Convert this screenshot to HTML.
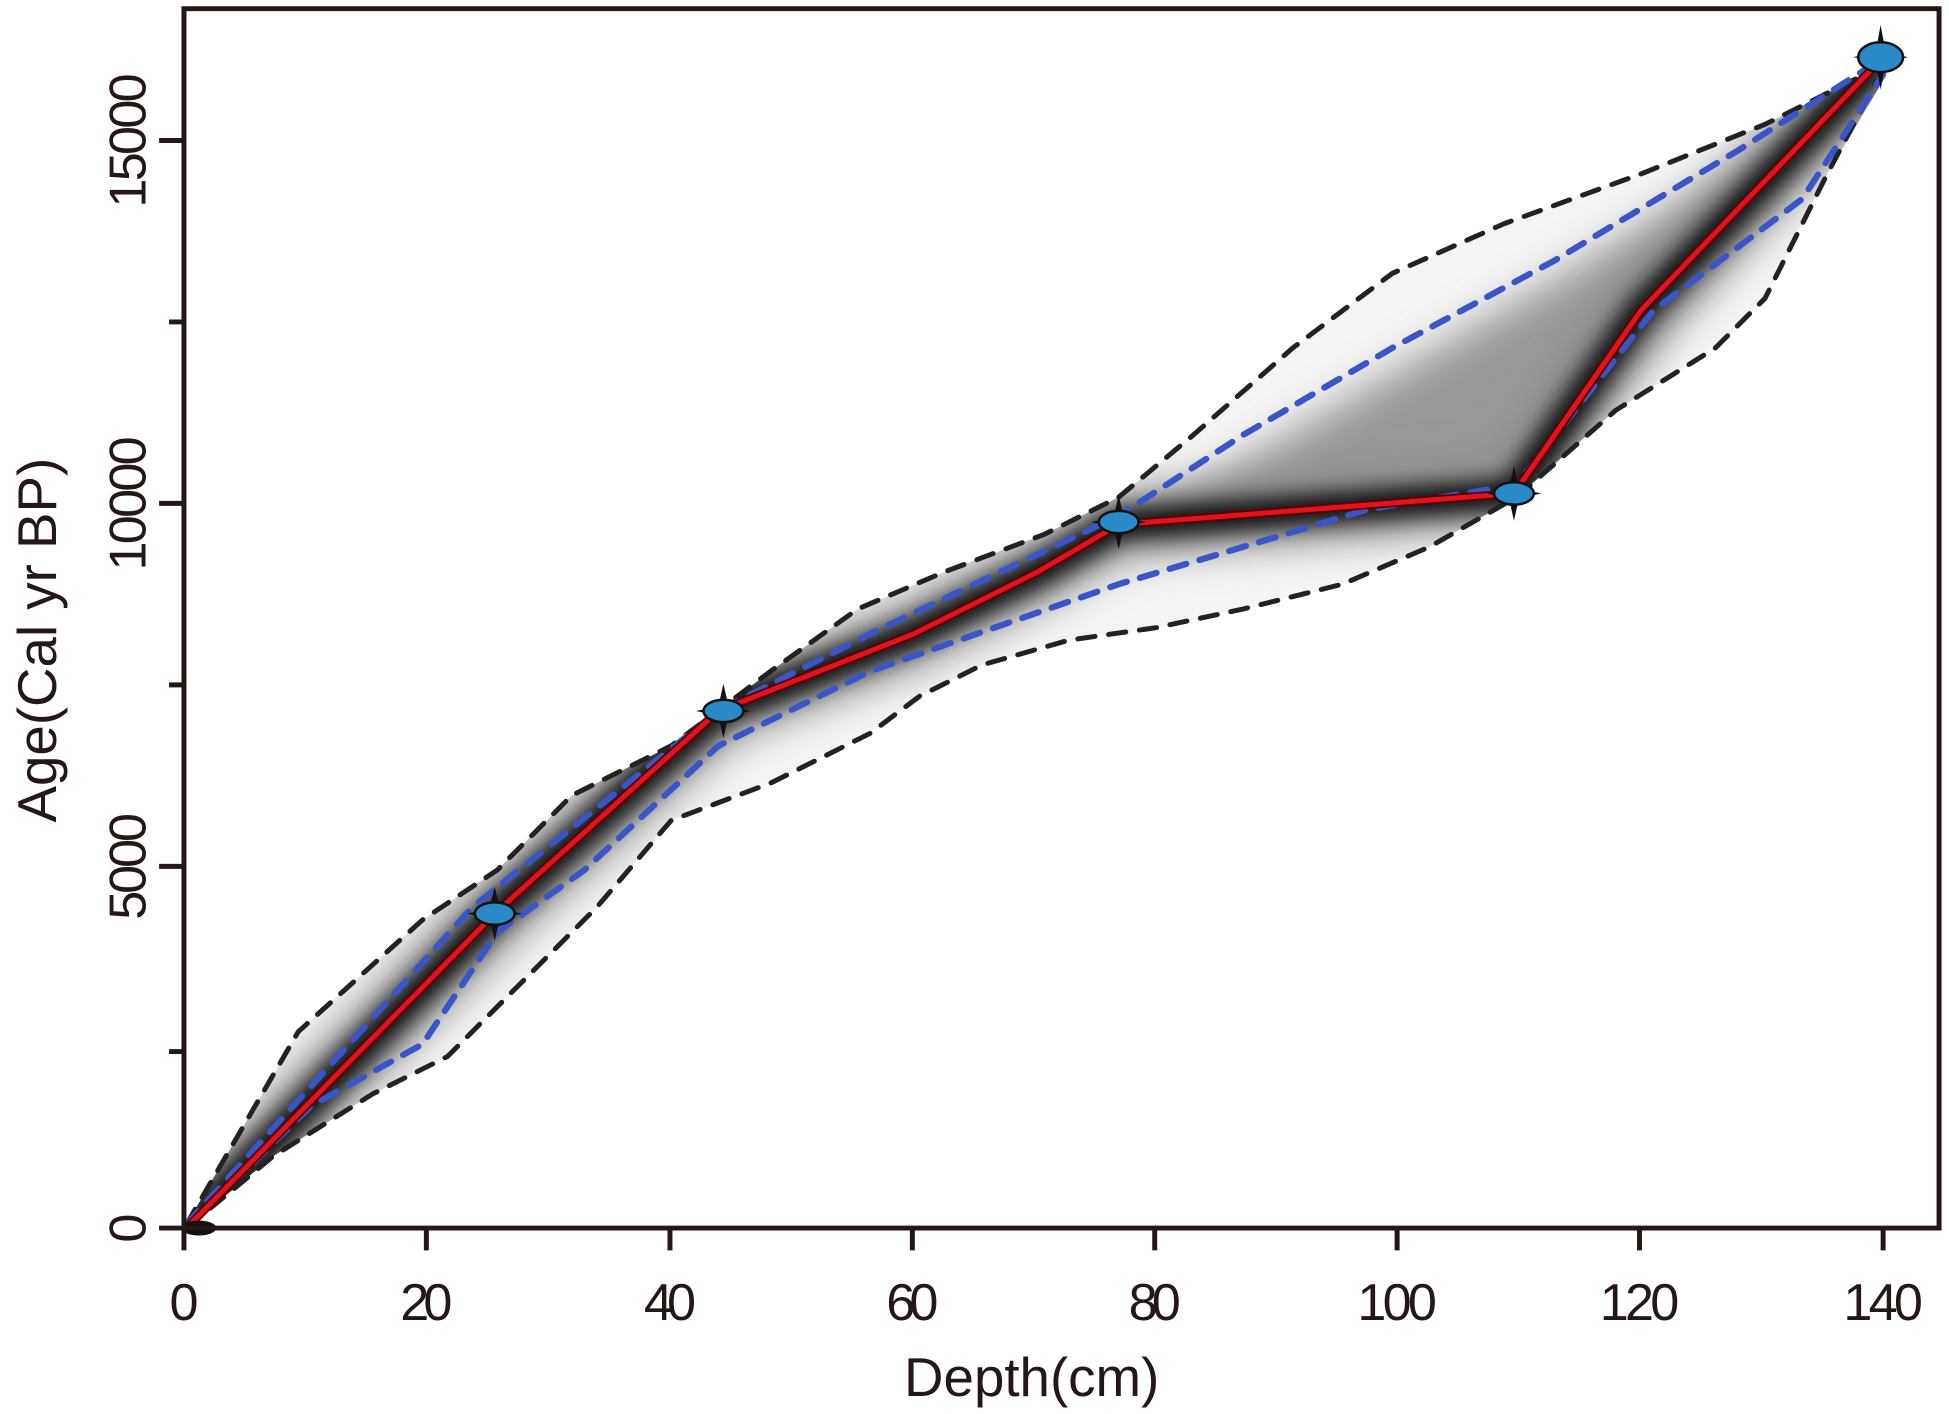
<!DOCTYPE html>
<html><head><meta charset="utf-8"><style>
html,body{margin:0;padding:0;background:#fff;}
svg{display:block;}
text{font-family:"Liberation Sans",Arial,sans-serif;fill:#231815;}
</style></head><body>
<svg width="1949" height="1414" viewBox="0 0 1568 1137.6" preserveAspectRatio="none" xmlns="http://www.w3.org/2000/svg">
<defs>
<filter id="b1" x="-20%" y="-20%" width="140%" height="140%"><feGaussianBlur stdDeviation="16"/></filter>
<filter id="b2" x="-20%" y="-20%" width="140%" height="140%"><feGaussianBlur stdDeviation="9"/></filter>
<clipPath id="env"><path d="M150,985 L240,830 L340,740 L400,700 L460,640 L540,600 L580,570 L620,540 L690,490 L760,460 L840,430 L900,400 L960,350 L1040,280 L1120,220 L1210,180 L1320,140 L1420,100 L1510,55 L1515,65 L1470,140 L1420,240 L1380,280 L1300,330 L1220,400 L1150,440 L1080,470 L1000,490 L930,505 L860,515 L790,535 L740,560 L700,590 L620,630 L540,660 L480,730 L430,780 L360,850 L300,880 L220,930 L150,988 Z"/></clipPath>
</defs>
<rect width="1568" height="1138" fill="#fff"/>
<g clip-path="url(#env)">
  <path d="M150,985 L240,830 L340,740 L400,700 L460,640 L540,600 L580,570 L620,540 L690,490 L760,460 L840,430 L900,400 L960,350 L1040,280 L1120,220 L1210,180 L1320,140 L1420,100 L1510,55 L1515,65 L1470,140 L1420,240 L1380,280 L1300,330 L1220,400 L1150,440 L1080,470 L1000,490 L930,505 L860,515 L790,535 L740,560 L700,590 L620,630 L540,660 L480,730 L430,780 L360,850 L300,880 L220,930 L150,988 Z" fill="#f4f4f4"/>
  <path d="M900,430 L1000,370 L1120,300 L1250,225 L1400,135 L1515,50 L1218,397 Z" fill="#999" filter="url(#b1)"/>
  <path d="M150,988 L398,735 L578,572 L735,510 L835,460 L900,422 L1218,397 L1320,250 L1515,46" fill="none" stroke="#888" stroke-width="50" filter="url(#b1)"/>
  <path d="M150,988 L398,735 L578,572 L735,510 L835,460 L900,422 L1218,397 L1320,250 L1515,46" fill="none" stroke="#000" stroke-width="22" filter="url(#b2)"/>
</g>
<g fill="none" stroke-dasharray="14 11" stroke-linecap="round" stroke-linejoin="round">
  <path d="M150,985 L240,830 L340,740 L400,700 L460,640 L540,600 L580,570 L620,540 L690,490 L760,460 L840,430 L900,400 L960,350 L1040,280 L1120,220 L1210,180 L1320,140 L1420,100 L1510,55" stroke="#222" stroke-width="4"/>
  <path d="M150,988 L220,930 L300,880 L360,850 L430,780 L480,730 L540,660 L620,630 L700,590 L740,560 L790,535 L860,515 L930,505 L1000,490 L1080,470 L1150,440 L1220,400 L1300,330 L1380,280 L1420,240 L1470,140 L1510,65" stroke="#222" stroke-width="4"/>
  <path d="M150,985 L380,730 L578,572 L700,510 L900,415 L1000,350 L1120,280 L1250,210 L1400,120 L1510,50" stroke="#3a55c8" stroke-width="5"/>
  <path d="M150,988 L250,890 L340,840 L400,750 L470,700 L578,600 L700,540 L800,505 L900,470 L1000,440 L1100,410 L1220,390 L1330,250 L1450,160 L1515,60" stroke="#3a55c8" stroke-width="5"/>
</g>
<path d="M150,988 L398,735 L578,572 L735,510 L835,460 L900,422 L1218,397 L1320,250 L1515,46" fill="none" stroke="#5a0000" stroke-width="7" stroke-linejoin="round"/>
<path d="M150,988 L398,735 L578,572 L735,510 L835,460 L900,422 L1218,397 L1320,250 L1515,46" fill="none" stroke="#e0141e" stroke-width="4" stroke-linejoin="round"/>
<g>
  <g transform="translate(398,735)"><path d="M0,-22 L4,-4 L22,0 L4,4 L0,22 L-4,4 L-22,0 L-4,-4Z" fill="#111"/><ellipse rx="16" ry="9" fill="#2a8ac8" stroke="#111" stroke-width="2"/></g>
  <g transform="translate(582,572)"><path d="M0,-22 L4,-4 L22,0 L4,4 L0,22 L-4,4 L-22,0 L-4,-4Z" fill="#111"/><ellipse rx="16" ry="9" fill="#2a8ac8" stroke="#111" stroke-width="2"/></g>
  <g transform="translate(900,420)"><path d="M0,-22 L4,-4 L22,0 L4,4 L0,22 L-4,4 L-22,0 L-4,-4Z" fill="#111"/><ellipse rx="16" ry="9" fill="#2a8ac8" stroke="#111" stroke-width="2"/></g>
  <g transform="translate(1218,397)"><path d="M0,-22 L4,-4 L22,0 L4,4 L0,22 L-4,4 L-22,0 L-4,-4Z" fill="#111"/><ellipse rx="16" ry="9" fill="#2a8ac8" stroke="#111" stroke-width="2"/></g>
  <g transform="translate(1513,46)"><path d="M0,-26 L4,-4 L22,0 L4,4 L0,26 L-4,4 L-22,0 L-4,-4Z" fill="#111"/><ellipse rx="18" ry="12" fill="#2a8ac8" stroke="#111" stroke-width="2"/></g>
  <g transform="translate(160,988)"><ellipse rx="14" ry="6" fill="#111"/></g>
</g>
<g stroke="#231815" stroke-width="4" fill="none">
  <path d="M148,7 L1560,7 L1560,988 L148,988 Z"/>
  <path d="M148,988 L148,1006 M343,988 L343,1006 M539,988 L539,1006 M734,988 L734,1006 M929,988 L929,1006 M1124,988 L1124,1006 M1319,988 L1319,1006 M1515,988 L1515,1006"/>
  <path d="M128,988 L148,988 M128,697 L148,697 M128,405 L148,405 M128,113 L148,113 M136,846 L148,846 M136,551 L148,551 M136,259 L148,259"/>
</g>
<g font-size="42" text-anchor="middle">
  <text x="148" y="1062">0</text><text x="343" y="1062" textLength="42">20</text><text x="539" y="1062" textLength="42">40</text><text x="734" y="1062" textLength="42">60</text><text x="929" y="1062" textLength="42">80</text><text x="1124" y="1062" textLength="64">100</text><text x="1319" y="1062" textLength="64">120</text><text x="1515" y="1062" textLength="64">140</text>
  <text transform="translate(117,988) rotate(-90)">0</text>
  <text transform="translate(117,697) rotate(-90)" textLength="86">5000</text>
  <text transform="translate(117,405) rotate(-90)" textLength="108">10000</text>
  <text transform="translate(117,113) rotate(-90)" textLength="108">15000</text>
  <text x="830" y="1123" font-size="44">Depth(cm)</text>
  <text transform="translate(45,515) rotate(-90)" font-size="44">Age(Cal yr BP)</text>
</g>
</svg>
</body></html>
